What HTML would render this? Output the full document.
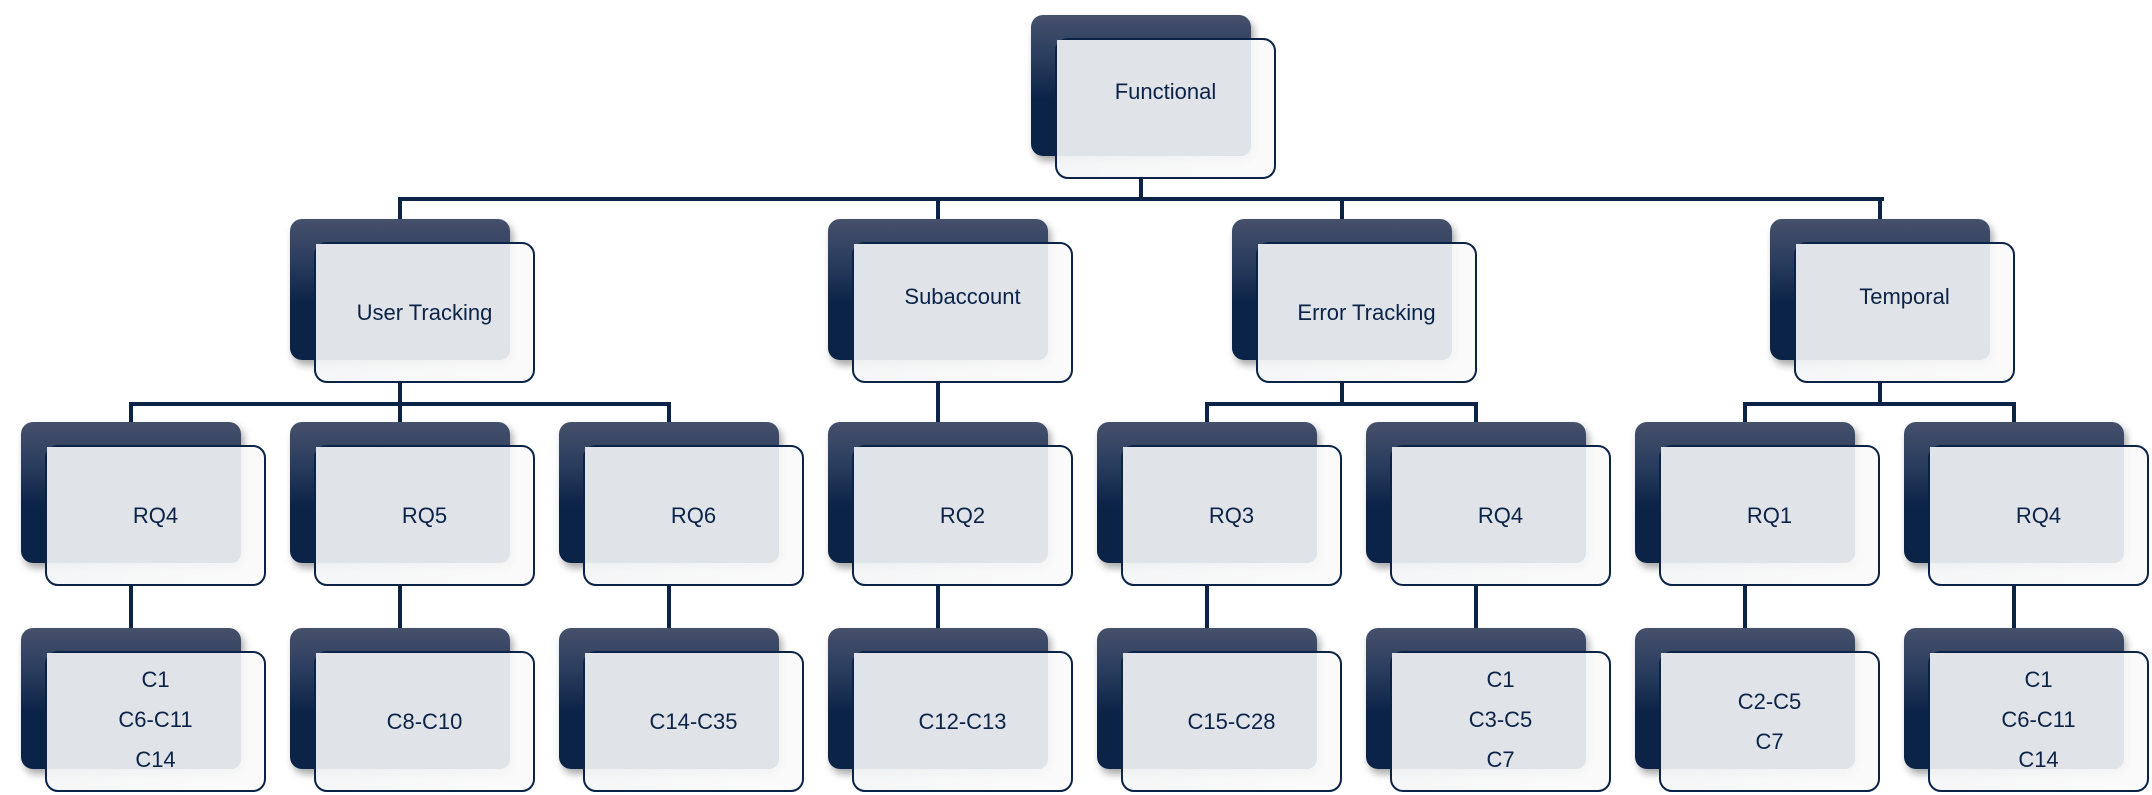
<!DOCTYPE html>
<html><head><meta charset="utf-8"><style>
html,body{margin:0;padding:0;background:#fff;}
body{width:2152px;height:795px;position:relative;overflow:hidden;font-family:"Liberation Sans",sans-serif;}
.n{position:absolute;width:245px;height:164px;}
.d{position:absolute;left:0;top:0;width:220px;height:141px;border-radius:12px;background:linear-gradient(#46516b 0%,#2a3d5e 30%,#0b2347 60%,#0b2347 100%);box-shadow:3px 5px 8px rgba(0,0,0,0.35);}
.l{position:absolute;left:24px;top:23px;width:217px;height:137px;border:2px solid #0b2347;border-radius:13px;background:linear-gradient(90deg,rgba(244,245,246,0.93),rgba(250,250,250,0.93));}
.o{position:absolute;left:26px;top:25px;width:194px;height:116px;background:#e0e3e8;border-radius:0 0 10px 0;}
.t{position:absolute;left:24px;width:221px;text-align:center;color:#0b2347;font-size:22px;line-height:40px;}
.h{position:absolute;background:#0b2347;height:4px;}
.v{position:absolute;background:#0b2347;width:4px;}
</style></head><body>

<!-- connectors -->
<div class="v" style="left:1139px;top:176px;height:24px"></div>
<div class="h" style="left:398px;top:197px;width:1486px"></div>
<div class="v" style="left:398px;top:197px;height:24px"></div>
<div class="v" style="left:936px;top:197px;height:24px"></div>
<div class="v" style="left:1340px;top:197px;height:24px"></div>
<div class="v" style="left:1878px;top:197px;height:24px"></div>

<div class="v" style="left:398px;top:380px;height:26px"></div>
<div class="v" style="left:936px;top:380px;height:44px"></div>
<div class="v" style="left:1340px;top:380px;height:26px"></div>
<div class="v" style="left:1878px;top:380px;height:26px"></div>
<div class="h" style="left:129px;top:402px;width:542px"></div>
<div class="h" style="left:1205px;top:402px;width:273px"></div>
<div class="h" style="left:1743px;top:402px;width:273px"></div>
<div class="v" style="left:129px;top:402px;height:22px"></div>
<div class="v" style="left:398px;top:402px;height:22px"></div>
<div class="v" style="left:667px;top:402px;height:22px"></div>
<div class="v" style="left:1205px;top:402px;height:22px"></div>
<div class="v" style="left:1474px;top:402px;height:22px"></div>
<div class="v" style="left:1743px;top:402px;height:22px"></div>
<div class="v" style="left:2012px;top:402px;height:22px"></div>

<div class="v" style="left:129px;top:584px;height:46px"></div>
<div class="v" style="left:398px;top:584px;height:46px"></div>
<div class="v" style="left:667px;top:584px;height:46px"></div>
<div class="v" style="left:936px;top:584px;height:46px"></div>
<div class="v" style="left:1205px;top:584px;height:46px"></div>
<div class="v" style="left:1474px;top:584px;height:46px"></div>
<div class="v" style="left:1743px;top:584px;height:46px"></div>
<div class="v" style="left:2012px;top:584px;height:46px"></div>

<!-- level 0 -->
<div class="n" style="left:1031px;top:15px"><div class="d"></div><div class="l"></div><div class="o"></div><div class="t" style="top:57px">Functional</div></div>

<!-- level 1 -->
<div class="n" style="left:290px;top:219px"><div class="d"></div><div class="l"></div><div class="o"></div><div class="t" style="top:74px">User Tracking</div></div>
<div class="n" style="left:828px;top:219px"><div class="d"></div><div class="l"></div><div class="o"></div><div class="t" style="top:58px">Subaccount</div></div>
<div class="n" style="left:1232px;top:219px"><div class="d"></div><div class="l"></div><div class="o"></div><div class="t" style="top:74px">Error Tracking</div></div>
<div class="n" style="left:1770px;top:219px"><div class="d"></div><div class="l"></div><div class="o"></div><div class="t" style="top:58px">Temporal</div></div>

<!-- level 2 -->
<div class="n" style="left:21px;top:422px"><div class="d"></div><div class="l"></div><div class="o"></div><div class="t" style="top:74px">RQ4</div></div>
<div class="n" style="left:290px;top:422px"><div class="d"></div><div class="l"></div><div class="o"></div><div class="t" style="top:74px">RQ5</div></div>
<div class="n" style="left:559px;top:422px"><div class="d"></div><div class="l"></div><div class="o"></div><div class="t" style="top:74px">RQ6</div></div>
<div class="n" style="left:828px;top:422px"><div class="d"></div><div class="l"></div><div class="o"></div><div class="t" style="top:74px">RQ2</div></div>
<div class="n" style="left:1097px;top:422px"><div class="d"></div><div class="l"></div><div class="o"></div><div class="t" style="top:74px">RQ3</div></div>
<div class="n" style="left:1366px;top:422px"><div class="d"></div><div class="l"></div><div class="o"></div><div class="t" style="top:74px">RQ4</div></div>
<div class="n" style="left:1635px;top:422px"><div class="d"></div><div class="l"></div><div class="o"></div><div class="t" style="top:74px">RQ1</div></div>
<div class="n" style="left:1904px;top:422px"><div class="d"></div><div class="l"></div><div class="o"></div><div class="t" style="top:74px">RQ4</div></div>

<!-- level 3 -->
<div class="n" style="left:21px;top:628px"><div class="d"></div><div class="l"></div><div class="o"></div><div class="t" style="top:32px">C1<br>C6-C11<br>C14</div></div>
<div class="n" style="left:290px;top:628px"><div class="d"></div><div class="l"></div><div class="o"></div><div class="t" style="top:74px">C8-C10</div></div>
<div class="n" style="left:559px;top:628px"><div class="d"></div><div class="l"></div><div class="o"></div><div class="t" style="top:74px">C14-C35</div></div>
<div class="n" style="left:828px;top:628px"><div class="d"></div><div class="l"></div><div class="o"></div><div class="t" style="top:74px">C12-C13</div></div>
<div class="n" style="left:1097px;top:628px"><div class="d"></div><div class="l"></div><div class="o"></div><div class="t" style="top:74px">C15-C28</div></div>
<div class="n" style="left:1366px;top:628px"><div class="d"></div><div class="l"></div><div class="o"></div><div class="t" style="top:32px">C1<br>C3-C5<br>C7</div></div>
<div class="n" style="left:1635px;top:628px"><div class="d"></div><div class="l"></div><div class="o"></div><div class="t" style="top:54px">C2-C5<br>C7</div></div>
<div class="n" style="left:1904px;top:628px"><div class="d"></div><div class="l"></div><div class="o"></div><div class="t" style="top:32px">C1<br>C6-C11<br>C14</div></div>

</body></html>
